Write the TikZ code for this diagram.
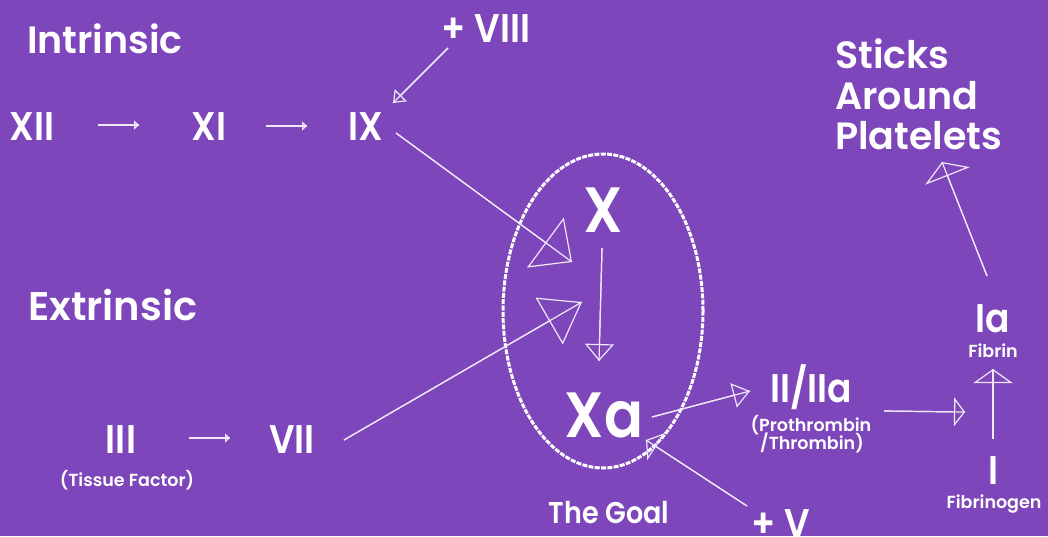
\documentclass[tikz,border=0pt]{standalone}
\usepackage{fontspec}
\setmainfont{Poppins}
\newfontfamily\popw{Poppins SemiBold}
\newfontfamily\popn{Poppins SemiBold}[FakeStretch=0.9]
\usetikzlibrary{arrows.meta,shapes.geometric}
\definecolor{bg}{RGB}{126,70,187}
\definecolor{ln}{RGB}{240,232,248}
\begin{document}
\begin{tikzpicture}[x=1pt,y=-1pt,
  lbl/.style={text=white,inner sep=0pt,anchor=base},
  title/.style={lbl,font=\fontsize{38}{44}\popw},
  factor/.style={lbl,font=\fontsize{40}{44}\popn},
  huge/.style={lbl,font=\fontsize{64}{70}\popn},
  goal/.style={lbl,font=\fontsize{30}{34}\popn},
  small/.style={lbl,font=\fontsize{17.5}{19}\popw},
  conn/.style={draw=ln,line width=1.2pt},
  tip/.style 2 args={postaction={draw=ln,line width=1.2pt,-{Triangle[open,length=#1,width=#2]}}},
  ring/.style={draw=white,line width=3pt,dash pattern=on 5pt off 1.3pt}
]
\fill[bg] (0,0) rectangle (1048,536);
\useasboundingbox (0,0) rectangle (1048,536);

% labels
\node[title,anchor=base west] (intr) at (27,53) {Intrinsic};
\node[title,anchor=base west,font=\fontsize{40}{44}\popw] (extr) at (28,320) {Extrinsic};
\node[factor] (viii) at (486,42) {+ VIII};
\node[factor] (xii) at (32,140) {XII};
\node[factor] (xi) at (209,140) {XI};
\node[factor] (ix) at (366,140) {IX};
\node[huge] (x) at (603,232) {X};
\node[huge] (xa) at (604,437) {Xa};
\node[goal] (goal) at (609,523) {The Goal};
\node[factor] (iii) at (121,453) {III};
\node[small] (tf) at (127,486) {(Tissue Factor)};
\node[factor] (vii) at (292,453) {VII};
\node[factor] (ii) at (811,402) {II/IIa};
\node[small] (pro) at (811,431) {(Prothrombin};
\node[small] (thr) at (812,449) {/Thrombin)};
\node[factor] (ia) at (993,332) {Ia};
\node[small] (fib) at (993,357) {Fibrin};
\node[factor] (i) at (993,484) {I};
\node[small] (fbg) at (994,508) {Fibrinogen};
\node[factor] (v) at (781,537) {+ V};
\node[title,anchor=base west] (sticks) at (835,68) {Sticks};
\node[title,anchor=base west] (around) at (835,109) {Around};
\node[title,anchor=base west] (plate) at (835,149) {Platelets};

% goal ring
\node[ring,ellipse,minimum width=200pt,minimum height=314pt,inner sep=0pt] (ring) at (603,311) {};

% connector ends
\coordinate (a1) at (98,125);  \coordinate (b1) at (139,125);
\coordinate (a2) at (266,126); \coordinate (b2) at (307,126);
\coordinate (a3) at (448,48);  \coordinate (b3) at (393,103);
\coordinate (a4) at (396,133); \coordinate (b4) at (572,262);
\coordinate (a5) at (344,440); \coordinate (b5) at (582,302);
\coordinate (a6) at (602,248); \coordinate (b6) at (599,361);
\coordinate (a7) at (652,417); \coordinate (b7) at (750,391);
\coordinate (a8) at (747,506); \coordinate (b8) at (646,440);
\coordinate (a9) at (884,411); \coordinate (b9) at (965,412);
\coordinate (a10) at (993,439); \coordinate (b10) at (993,369);
\coordinate (a11) at (987,276); \coordinate (b11) at (942,162);
\coordinate (a12) at (189,438); \coordinate (b12) at (230,438);

\draw[conn,tip={5}{9}] (a1) -- (b1);
\draw[conn,tip={5}{9}] (a2) -- (b2);
\draw[conn,tip={5}{9}] (a12) -- (b12);
\draw[conn,tip={11}{17}] (a3) -- (b3);
\draw[conn,tip={33}{62}] (a4) -- (b4);
\draw[conn,tip={38}{54}] (a5) -- (b5);
\draw[conn,tip={17}{29}] (a6) -- (b6);
\draw[conn,tip={17}{25}] (a7) -- (b7);
\draw[conn,tip={12}{32}] (a8) -- (b8);
\draw[conn,tip={11}{29}] (a9) -- (b9);
\draw[conn,tip={14}{39}] (a10) -- (b10);
\draw[conn,tip={15}{48}] (a11) -- (b11);
\end{tikzpicture}
\end{document}
